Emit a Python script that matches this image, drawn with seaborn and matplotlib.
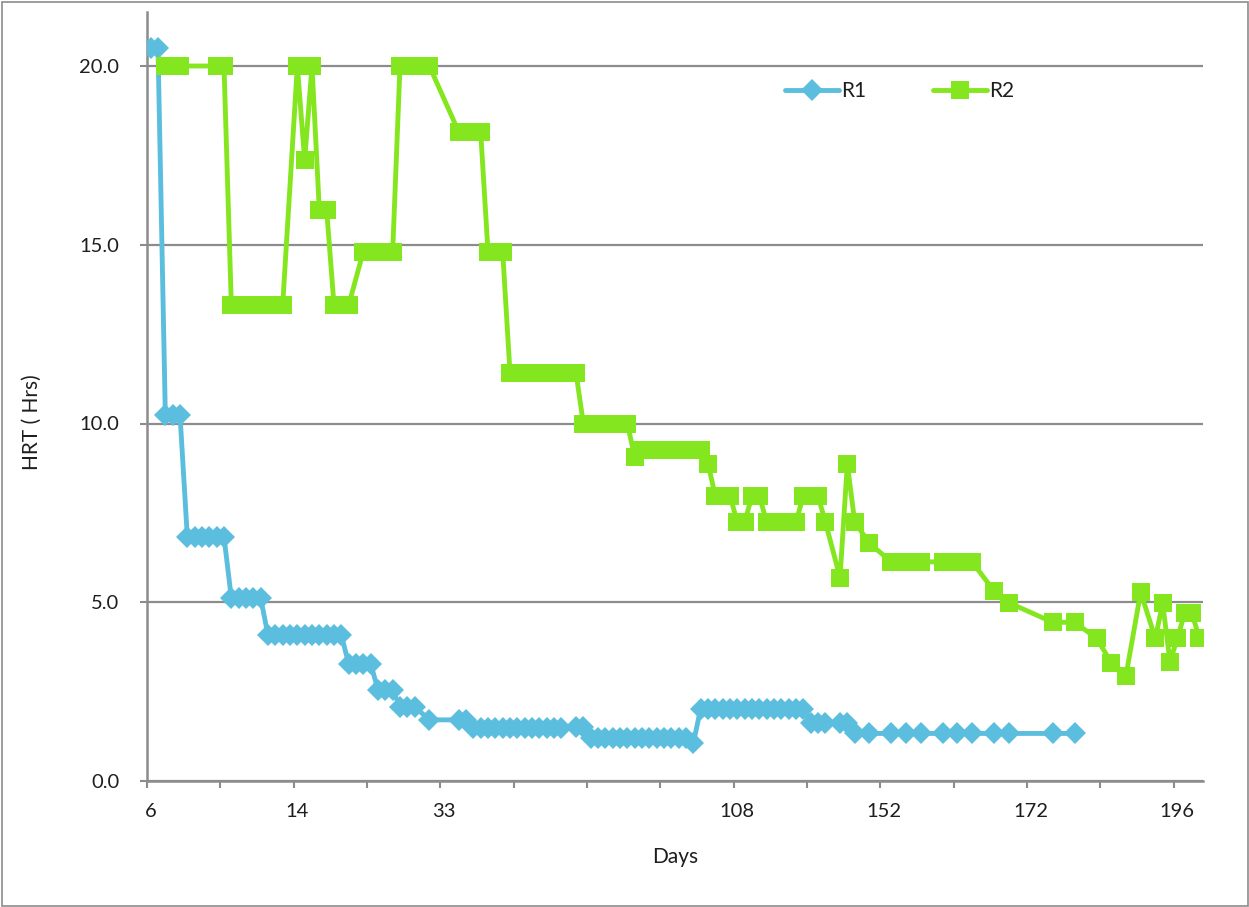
import matplotlib
matplotlib.use("Agg")
import matplotlib.pyplot as plt
import seaborn as sns
import numpy as np
import pandas as pd
from matplotlib.patches import Rectangle

nan = np.nan

# HRT values per sample (category) position; nan = no reading at that sample
r1_hrt = [
    20.5, 20.5, 10.24, 10.24, 10.24, 6.83, 6.83, 6.83, 6.83, 6.83,
    6.83, 5.12, 5.12, 5.12, 5.12, 5.12, 4.08, 4.08, 4.08, 4.08,
    4.08, 4.08, 4.08, 4.08, 4.08, 4.08, 4.08, 3.28, 3.28, 3.28,
    3.28, 2.55, 2.55, 2.55, 2.08, 2.08, 2.08, nan, 1.71, nan,
    nan, nan, 1.71, 1.71, 1.47, 1.47, 1.47, 1.47, 1.47, 1.47,
    1.47, 1.47, 1.47, 1.47, 1.47, 1.47, 1.47, nan, 1.52, 1.52,
    1.19, 1.19, 1.19, 1.19, 1.19, 1.19, 1.19, 1.19, 1.19, 1.19,
    1.19, 1.19, 1.19, 1.19, 1.06, 2.02, 2.02, 2.02, 2.02, 2.02,
    2.02, 2.02, 2.02, 2.02, 2.02, 2.02, 2.02, 2.02, 2.02, 2.02,
    1.63, 1.63, 1.63, nan, 1.63, 1.63, 1.33, nan, 1.33, nan,
    nan, 1.33, nan, 1.33, nan, 1.33, nan, nan, 1.33, nan,
    1.33, nan, 1.33, nan, nan, 1.33, nan, 1.33, nan, nan,
    nan, nan, nan, 1.33, nan, nan, 1.33, nan, nan, nan,
    nan, nan, nan, nan, nan, nan, nan, nan, nan, nan,
    nan, nan, nan, nan,
]

r2_hrt = [
    nan, nan, 20.0, 20.0, 20.0, nan, nan, nan, nan, 20.0,
    20.0, 13.31, 13.31, 13.31, 13.31, 13.31, 13.31, 13.31, 13.31, nan,
    20.0, 17.37, 20.0, 15.97, 15.97, 13.31, 13.31, 13.31, nan, 14.81,
    14.81, 14.81, 14.81, 14.81, 20.0, 20.0, 20.0, 20.0, 20.0, nan,
    nan, nan, 18.16, 18.16, 18.16, 18.16, 14.81, 14.81, 14.81, 11.42,
    11.42, 11.42, 11.42, 11.42, 11.42, 11.42, 11.42, 11.42, 11.42, 10.0,
    10.0, 10.0, 10.0, 10.0, 10.0, 10.0, 9.07, 9.27, 9.27, 9.27,
    9.27, 9.27, 9.27, 9.27, 9.27, 9.27, 8.88, 7.97, 7.97, 7.97,
    7.25, 7.25, 7.97, 7.97, 7.25, 7.25, 7.25, 7.25, 7.25, 7.97,
    7.97, 7.97, 7.25, nan, 5.69, 8.87, 7.25, nan, 6.65, nan,
    nan, 6.13, nan, 6.13, nan, 6.13, nan, nan, 6.13, nan,
    6.13, nan, 6.13, nan, nan, 5.32, nan, 4.99, nan, nan,
    nan, nan, nan, 4.44, nan, nan, 4.44, nan, nan, 3.99,
    nan, 3.31, nan, 2.95, nan, 5.28, nan, 3.99, 4.97, 3.33,
    3.99, 4.69, 4.69, 3.99,
]

day_label_pos = [0, 20, 40, 80, 100, 120, 140]
day_labels = ["6", "14", "33", "108", "152", "172", "196"]
y_ticks = [0, 5, 10, 15, 20]

n_cat = len(r1_hrt)
sample = np.arange(n_cat)

df = pd.concat([
    pd.DataFrame({"sample": sample, "HRT": r1_hrt, "Reactor": "R1"}),
    pd.DataFrame({"sample": sample, "HRT": r2_hrt, "Reactor": "R2"}),
]).dropna()

sns.set_theme(style="white")
plt.rcParams["font.family"] = ["Lato", "DejaVu Sans"]

W, H = 1249, 907
fig = plt.figure(figsize=(W / 100, H / 100), dpi=100)
ymax = 21.5
px_per = (781 - 66) / 20.0
top_px = 781 - ymax * px_per
ax = fig.add_axes([147 / W, 1 - 781 / H, (1203 - 147) / W, (781 - top_px) / H])

c1 = "#5BBEDE"
c2 = "#84E61E"
grid_c = "#8C8C8C"
txt_c = "#1E1E1E"

sns.lineplot(data=df[df.Reactor == "R1"], x="sample", y="HRT", ax=ax, color=c1,
             marker="D", markersize=11.5, markeredgewidth=0, markeredgecolor=c1,
             linewidth=3.5, label="R1", zorder=3)
sns.lineplot(data=df[df.Reactor == "R2"], x="sample", y="HRT", ax=ax, color=c2,
             marker="s", markersize=13.5, markeredgewidth=0, markeredgecolor=c2,
             linewidth=3.5, label="R2", zorder=4)

ax.set_xlim(-0.5, n_cat - 0.5)
ax.set_ylim(0, ymax)

# y axis
ax.set_yticks(y_ticks)
ax.set_yticklabels([f"{v:.1f}" for v in y_ticks])
ax.yaxis.grid(True, color=grid_c, linewidth=1.6)
ax.set_axisbelow(True)

# x axis: tick marks every 10 samples, labels at selected samples
ax.set_xticks(np.arange(-0.5, n_cat - 1, 10))
ax.set_xticklabels([])
ax.set_xticks(day_label_pos, minor=True)
ax.set_xticklabels(day_labels, minor=True)
ax.tick_params(axis="x", which="major", direction="out", length=5, width=1.5,
               color=grid_c, bottom=True)
ax.tick_params(axis="x", which="minor", length=0, pad=16, labelsize=14.5,
               labelcolor=txt_c, bottom=True)
ax.tick_params(axis="y", which="major", direction="out", length=5, width=1.5,
               color=grid_c, left=True, pad=15, labelsize=14.5, labelcolor=txt_c)

for s in ["top", "right"]:
    ax.spines[s].set_visible(False)
for s in ["left", "bottom"]:
    ax.spines[s].set_color(grid_c)
    ax.spines[s].set_linewidth(1.8)

ax.set_xlabel("Days", fontsize=15, color=txt_c)
ax.set_ylabel("HRT ( Hrs)", fontsize=15, color=txt_c)
ax_h = 781 - top_px
ax.xaxis.set_label_coords((675 - 147) / 1056, -(847 - 781) / ax_h)
ax.yaxis.set_label_coords(-(147 - 42) / 1056, (781 - 422) / ax_h)

leg = ax.legend(loc="center", bbox_to_anchor=(900 / W, 1 - 91 / H),
                bbox_transform=fig.transFigure, ncol=2, frameon=False,
                handlelength=2.6, columnspacing=3.2, handletextpad=0.1,
                fontsize=15)
for t in leg.get_texts():
    t.set_color(txt_c)

fig.patches.append(Rectangle((1.5 / W, 1.5 / H), 1 - 3 / W, 1 - 3 / H,
                             transform=fig.transFigure, fill=False,
                             edgecolor="#8C8C8C", linewidth=1.2))

fig.savefig("out.png", dpi=100)
